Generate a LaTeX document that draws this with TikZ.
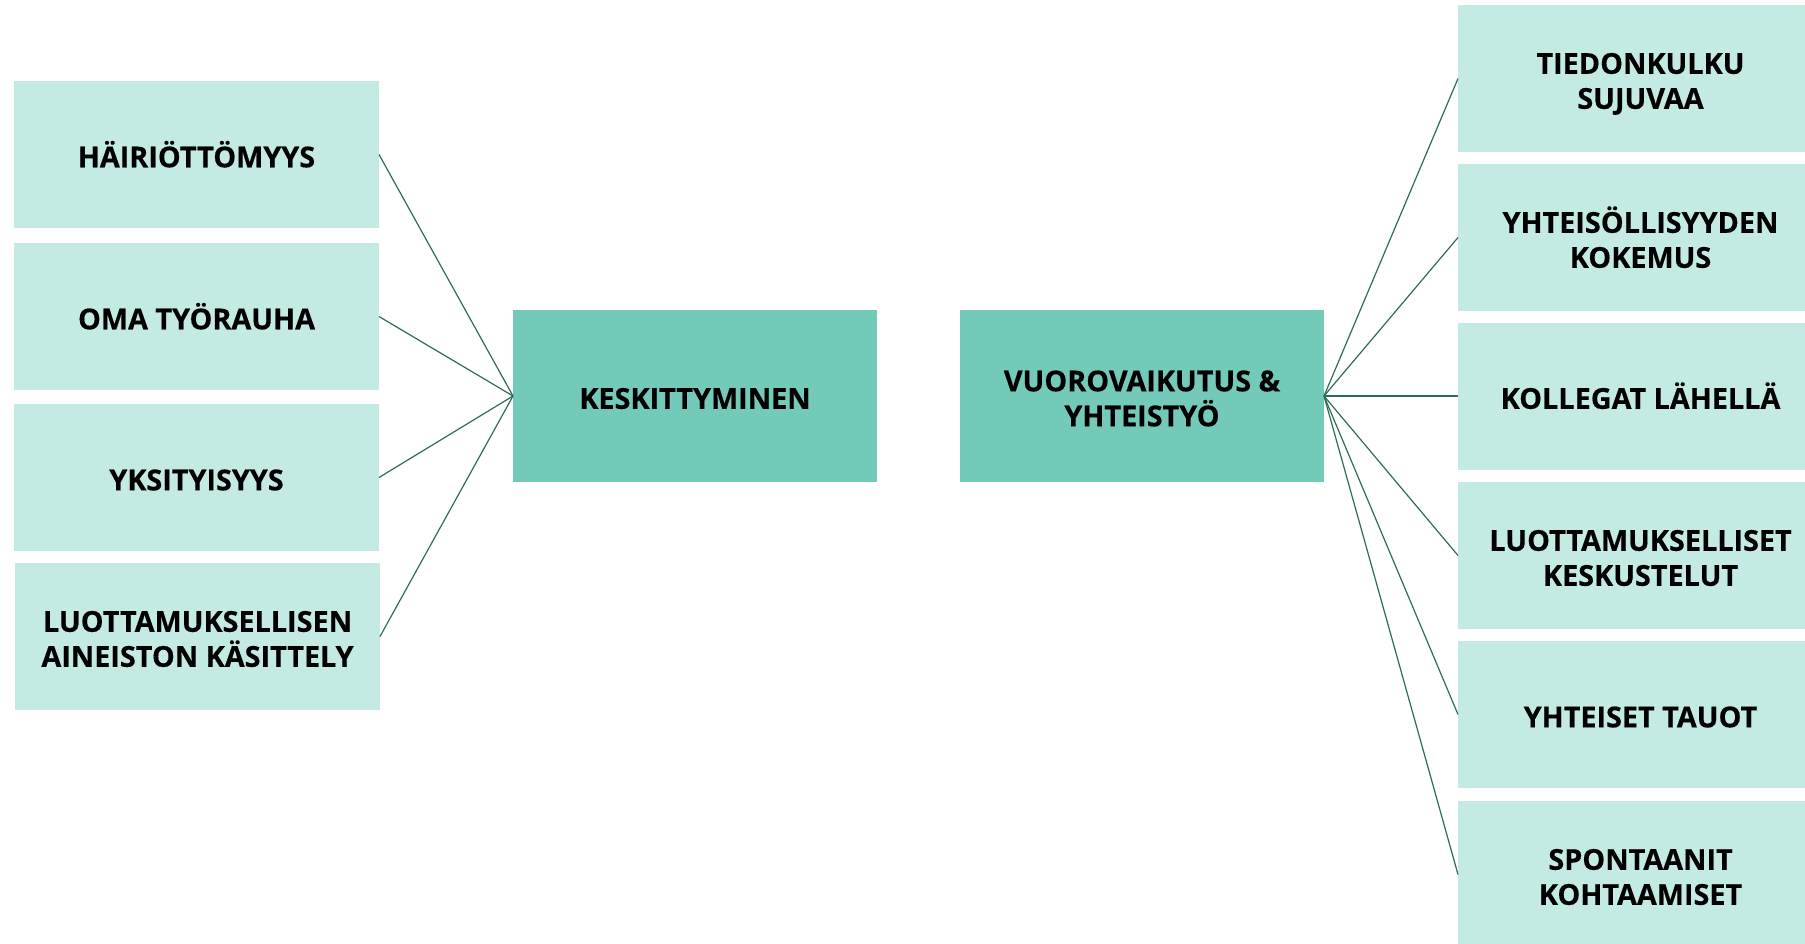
\documentclass[tikz,border=0pt]{standalone}
\usepackage{fontspec}
\setmainfont{Open Sans}[BoldFeatures={FakeBold=0.4}]
\definecolor{lightbox}{HTML}{C4EBE3}
\definecolor{darkbox}{HTML}{74CAB9}
\definecolor{linkc}{HTML}{2E6B5A}
\begin{document}
\begin{tikzpicture}[x=1pt,y=-1pt,
  box/.style={fill=lightbox, minimum width=365pt, minimum height=147pt,
    inner sep=0pt, outer sep=0pt, align=center,
    font=\fontsize{28.8}{35}\selectfont\bfseries},
  hub/.style={box, fill=darkbox, minimum width=364pt, minimum height=172pt},
  one/.style={text height=25.6pt, text depth=0pt},
  two/.style={text height=60.6pt, text depth=0pt},
  link/.style={draw=linkc, line width=1.2pt}]
\useasboundingbox (0,0) rectangle (1805,943);
\clip (0,0) rectangle (1805,943);
% left column
\node[box,one] (l1) at (196.5,154.5) {HÄIRIÖTTÖMYYS};
\node[box,one] (l2) at (196.5,316.5) {OMA TYÖRAUHA};
\node[box,one] (l3) at (196.5,477.5) {YKSITYISYYS};
\node[box,two] (l4) at (197.5,636.5) {LUOTTAMUKSELLISEN\\AINEISTON KÄSITTELY};
% hubs
\node[hub,one] (c1) at (695,396) {KESKITTYMINEN};
\node[hub,two] (c2) at (1142,396) {VUOROVAIKUTUS \&\\YHTEISTYÖ};
% right column
\node[box,two] (r1) at (1640.5,78.5) {TIEDONKULKU\\SUJUVAA};
\node[box,two] (r2) at (1640.5,237.5) {YHTEISÖLLISYYDEN\\KOKEMUS};
\node[box,one] (r3) at (1640.5,396) {KOLLEGAT LÄHELLÄ};
\node[box,two] (r4) at (1640.5,555.5) {LUOTTAMUKSELLISET\\KESKUSTELUT};
\node[box,one] (r5) at (1640.5,714.5) {YHTEISET TAUOT};
\node[box,two] (r6) at (1640.5,874.5) {SPONTAANIT\\KOHTAAMISET};
% connectors
\foreach \n in {l1,l2,l3,l4} \draw[link] (\n.east) -- (c1.west);
\foreach \n in {r1,r2,r3,r4,r5,r6} \draw[link] (c2.east) -- (\n.west);
\end{tikzpicture}
\end{document}
